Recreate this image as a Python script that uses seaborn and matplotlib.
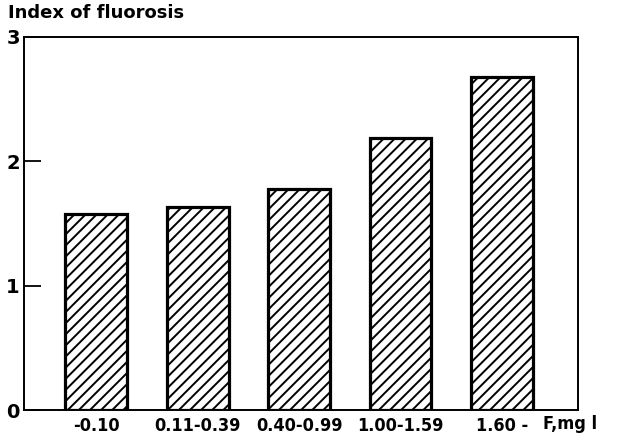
import matplotlib
matplotlib.use("Agg")
import matplotlib.pyplot as plt
import seaborn as sns
import pandas as pd

categories = ["-0.10", "0.11-0.39", "0.40-0.99", "1.00-1.59", "1.60 -"]
values = [1.58, 1.63, 1.78, 2.19, 2.68]
y_ticks = [0, 1, 2, 3]
y_label = "Index of fluorosis"
x_unit = "F,mg l"

sns.set_theme(style="white")
plt.rcParams["font.family"] = ["DejaVu Sans"]
plt.rcParams["font.weight"] = "bold"
plt.rcParams["text.color"] = "black"
plt.rcParams["xtick.color"] = "black"
plt.rcParams["ytick.color"] = "black"
plt.rcParams["hatch.linewidth"] = 1.4
plt.rcParams["hatch.color"] = "black"

df = pd.DataFrame({"range": categories, "index": values})

fig = plt.figure(figsize=(6.21, 4.41), dpi=100)
ax = fig.add_axes([24/621, 1-410/441, (578-24)/621, (410-37)/441])

sns.barplot(data=df, x="range", y="index", order=categories, color="white",
            edgecolor="black", linewidth=2.3, width=0.61, saturation=1, ax=ax)
for p in ax.patches:
    p.set_hatch("///")
    p.set_facecolor("white")
    p.set_edgecolor("black")

ax.set_xlim(-0.714, 4.75)
ax.set_ylim(0, 3)
ax.set_yticks(y_ticks)
ax.set_yticklabels([str(t) for t in y_ticks], fontsize=14, fontweight="bold", color="black")
ax.tick_params(axis="y", direction="in", length=12, width=1.3, color="black", pad=3, left=True)
ax.tick_params(axis="x", length=0, pad=5)
ax.set_xticks(range(len(categories)))
ax.set_xticklabels(categories, fontsize=13, fontweight="bold", color="black",
                   fontstretch="condensed")
ax.set_xlabel("")
ax.set_ylabel("")
for s in ax.spines.values():
    s.set_visible(True)
    s.set_color("black")
    s.set_linewidth(1.4)

fig.text(8/621, 1-13/441, y_label, fontsize=13, fontweight="bold", va="center", ha="left", color="black")
fig.text(543/621, 1-424/441, x_unit, fontsize=13, fontweight="bold", va="center", ha="left",
         color="black", fontstretch="condensed")

fig.savefig("out.png", dpi=100)
